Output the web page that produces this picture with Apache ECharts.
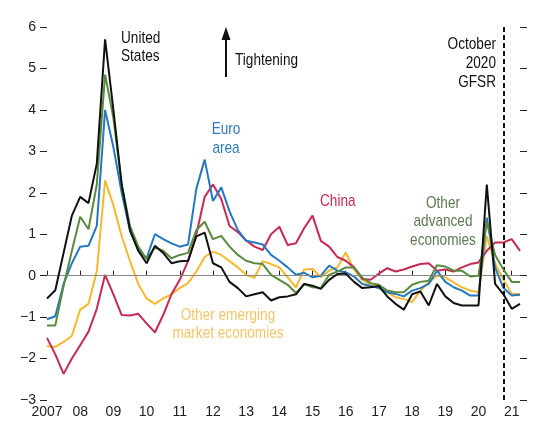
<!DOCTYPE html>
<html>
<head>
<meta charset="utf-8">
<script src="https://cdn.jsdelivr.net/npm/echarts@6/dist/echarts.min.js"></script>
<style>
  html, body { margin: 0; padding: 0; background: #fff; }
  #main { width: 535px; height: 425px; }
</style>
</head>
<body>
<div id="main"></div>
<script>
// quarterly observations, 2007Q1 .. 2021Q2
var years = [2007, 2008, 2009, 2010, 2011, 2012, 2013, 2014, 2015, 2016, 2017, 2018, 2019, 2020, 2021];
var xLabels = ['2007', '08', '09', '10', '11', '12', '13', '14', '15', '16', '17', '18', '19', '20', '21'];
var yTicks = [-3, -2, -1, 0, 1, 2, 3, 4, 5, 6];

var unitedStates = [-0.55, -0.35, 0.55, 1.45, 1.9, 1.75, 2.7, 5.7, 4.0, 2.2,
  1.1, 0.6, 0.3, 0.72, 0.55, 0.3, 0.35, 0.36, 0.95, 1.04,
  0.3, 0.2, -0.15, -0.3, -0.5, -0.45, -0.4, -0.6, -0.52, -0.5,
  -0.45, -0.2, -0.24, -0.32, -0.1, 0.04, 0.05, -0.15, -0.3, -0.28,
  -0.25, -0.5, -0.68, -0.82, -0.45, -0.38, -0.72, -0.2, -0.5, -0.66,
  -0.72, -0.72, -0.72, 2.2, -0.2, -0.45, -0.8, -0.68];
var euroArea = [-1.05, -0.98, -0.2, 0.3, 0.7, 0.72, 1.2, 4.0, 3.1, 2.0,
  1.08, 0.62, 0.42, 1.0, 0.88, 0.78, 0.7, 0.75, 2.1, 2.8,
  1.8, 2.13, 1.55, 1.1, 0.84, 0.8, 0.75, 0.5, 0.36, 0.2,
  0.02, 0.07, -0.04, 0.0, 0.24, 0.12, 0.08, -0.02, -0.2, -0.25,
  -0.3, -0.4, -0.44, -0.5, -0.36, -0.3, -0.2, 0.12, -0.15, -0.28,
  -0.36, -0.48, -0.48, 1.4, 0.2, -0.3, -0.48, -0.46];
var china = [-1.5, -1.9, -2.37, -2.0, -1.68, -1.35, -0.8, 0.02, -0.45, -0.95,
  -0.96, -0.92, -1.15, -1.37, -0.95, -0.45, -0.1, 0.35, 1.0, 1.9,
  2.2, 1.85, 1.2, 1.05, 0.85, 0.7, 0.62, 1.0, 1.18, 0.74,
  0.78, 1.15, 1.45, 0.84, 0.7, 0.45, 0.36, 0.2, -0.08, -0.1,
  0.05, 0.18, 0.1, 0.15, 0.22, 0.28, 0.3, 0.12, 0.15, 0.1,
  0.2, 0.28, 0.32, 0.6, 0.8, 0.8, 0.88, 0.6];
var otherAdvanced = [-1.2, -1.2, -0.25, 0.6, 1.42, 1.12, 2.2, 4.85, 3.8, 2.2,
  1.2, 0.7, 0.4, 0.68, 0.6, 0.42, 0.5, 0.55, 1.1, 1.3,
  0.88, 0.96, 0.7, 0.5, 0.36, 0.3, 0.28, 0.02, -0.1, -0.22,
  -0.42, -0.2, -0.28, -0.3, 0.02, 0.1, 0.2, 0.2, -0.05, -0.18,
  -0.22, -0.36, -0.4, -0.4, -0.22, -0.15, -0.12, 0.25, 0.22, 0.12,
  0.12, -0.02, 0.0, 1.3, 0.5, 0.15, -0.15, -0.15];
var otherEmerging = [-1.7, -1.72, -1.6, -1.45, -0.82, -0.68, 0.1, 2.3, 1.7, 0.95,
  0.35, -0.2, -0.55, -0.68, -0.55, -0.45, -0.3, -0.18, 0.1, 0.45,
  0.58, 0.5, 0.35, 0.2, 0.02, -0.05, 0.35, 0.28, 0.2, -0.04,
  -0.28, 0.15, 0.16, -0.04, 0.12, 0.2, 0.56, 0.15, -0.1, -0.22,
  -0.3, -0.4, -0.52, -0.56, -0.64, -0.36, -0.16, 0.0, -0.04, -0.16,
  -0.28, -0.36, -0.4, 0.95, 0.3, -0.1, -0.44, -0.44];

var quarters = [];
years.forEach(function (y) {
  ['Q1', 'Q2', 'Q3', 'Q4'].forEach(function (q) { quarters.push(y + q); });
});
quarters = quarters.slice(0, unitedStates.length);

var gfsrQuarter = '2020Q4';
var textFont = "17px 'Liberation Sans', Arial, sans-serif";
var axisFont = "'Liberation Sans', Arial, sans-serif";

function isYearStart(idx, val) { return String(val).slice(4) === 'Q1'; }

// condensed annotation text (no narrow face installed, so squeeze it)
function note(x, y, text, color, align, lh) {
  return {
    type: 'text', x: x, y: y, scaleX: 0.8,
    style: { text: text, font: textFont, fill: color, align: align || 'left', verticalAlign: 'top', lineHeight: lh || 18 }
  };
}

var chart = echarts.init(document.getElementById('main'));

function line(name, data, color, z, extra) {
  var s = {
    name: name,
    type: 'line',
    data: data,
    symbol: 'none',
    z: z,
    lineStyle: { color: color, width: 2 },
    emphasis: { disabled: true }
  };
  return Object.assign(s, extra || {});
}

chart.setOption({
  animation: false,
  grid: { left: 47, right: 15, top: 27, bottom: 25 },
  xAxis: {
    type: 'category',
    data: quarters,
    boundaryGap: false,
    axisLine: { lineStyle: { color: '#222', width: 1 } },
    axisTick: { inside: true, length: 5, interval: isYearStart, lineStyle: { color: '#222' } },
    axisLabel: {
      interval: isYearStart,
      margin: 5,
      color: '#222',
      fontSize: 14,
      fontFamily: axisFont,
      formatter: function (val) { return xLabels[years.indexOf(+String(val).slice(0, 4))]; }
    },
    splitLine: { show: false }
  },
  yAxis: [{
    type: 'value',
    min: yTicks[0], max: yTicks[yTicks.length - 1], interval: 1,
    axisLine: { show: false },
    axisTick: { show: true, length: 7, lineStyle: { color: '#222' } },
    axisLabel: {
      margin: 11, color: '#222', fontSize: 14, fontFamily: axisFont,
      formatter: function (v) { return v < 0 ? '\u2212' + Math.abs(v) : String(v); }
    },
    splitLine: { show: false }
  }, {
    type: 'value', position: 'right',
    min: yTicks[0], max: yTicks[yTicks.length - 1], interval: 1,
    axisLine: { show: false },
    axisTick: { show: true, length: 7, lineStyle: { color: '#222' } },
    axisLabel: { show: false },
    splitLine: { show: false }
  }],
  series: [
    line('Other emerging market economies', otherEmerging, '#f6b82e', 2, {
      markLine: {
        silent: true, symbol: 'none', label: { show: false },
        lineStyle: { color: '#8a8a8a', width: 1, type: 'solid' },
        data: [{ yAxis: 0 }]
      }
    }),
    line('China', china, '#c72a52', 3),
    line('Euro area', euroArea, '#2479c2', 4),
    line('Other advanced economies', otherAdvanced, '#5a8a3e', 5),
    line('United States', unitedStates, '#111', 6, {
      markLine: {
        silent: true, symbol: 'none', label: { show: false },
        lineStyle: { color: '#111', width: 2, type: [5, 3] },
        data: [{ xAxis: gfsrQuarter }]
      }
    })
  ],
  graphic: [
    note(121, 29, 'United\nStates', '#111'),
    { type: 'line', shape: { x1: 226, y1: 77, x2: 226, y2: 38 }, style: { stroke: '#111', lineWidth: 2 } },
    { type: 'polygon', shape: { points: [[226, 27], [221.5, 40], [230.5, 40]] }, style: { fill: '#111' } },
    note(235, 51, 'Tightening', '#111'),
    note(226, 120, 'Euro\narea', '#2f78bd', 'center', 19),
    note(320, 192, 'China', '#c72a52'),
    note(443, 194, 'Other\nadvanced\neconomies', '#5d7a55', 'center', 18.5),
    note(228, 306, 'Other emerging\nmarket economies', '#f5c56a', 'center', 18),
    note(496, 35, 'October\n2020\nGFSR', '#111', 'right', 19)
  ]
});
</script>
</body>
</html>
